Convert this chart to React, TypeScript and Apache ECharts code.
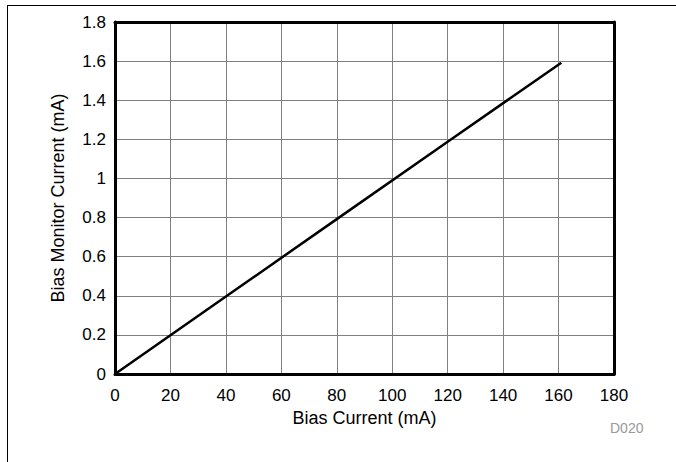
import React, { useEffect, useRef } from "react";
import * as echarts from "echarts";

const biasCurrent = [0, 40, 80, 120, 161];
const biasMonitor = [0, 0.396, 0.792, 1.188, 1.592];

export default function App() {
  const ref = useRef<HTMLDivElement>(null);
  useEffect(() => {
    const chart = echarts.init(ref.current!, null, { renderer: "svg" });
    const font = "Liberation Sans, Arial, sans-serif";
    const frame = { show: true, onZero: false, lineStyle: { color: "#000", width: 3 } };
    chart.setOption({
      animation: false,
      grid: { left: 115, right: 62, top: 22, bottom: 88, show: false, containLabel: false },
      xAxis: [
        {
          type: "value",
          min: 0,
          max: 180,
          interval: 20,
          name: "Bias Current (mA)",
          nameLocation: "middle",
          nameGap: 34,
          nameTextStyle: { color: "#000", fontSize: 18, fontFamily: font },
          axisLine: frame,
          axisTick: { show: false },
          axisLabel: { color: "#000", fontSize: 17, fontFamily: font, margin: 13 },
          splitLine: { show: true, lineStyle: { color: "#808080", width: 1 } },
          z: 3,
        },
        {
          type: "value",
          position: "top",
          min: 0,
          max: 180,
          interval: 20,
          axisLine: frame,
          axisTick: { show: false },
          axisLabel: { show: false },
          splitLine: { show: false },
          z: 3,
        },
      ],
      yAxis: [
        {
          type: "value",
          min: 0,
          max: 1.8,
          interval: 0.2,
          name: "Bias Monitor Current (mA)",
          nameLocation: "middle",
          nameGap: 48,
          nameTextStyle: { color: "#000", fontSize: 18, fontFamily: font },
          axisLine: frame,
          axisTick: { show: false },
          axisLabel: {
            color: "#000",
            fontSize: 17,
            fontFamily: font,
            margin: 9,
            formatter: (v: number) => String(Math.round(v * 10) / 10),
          },
          splitLine: { show: true, lineStyle: { color: "#808080", width: 1 } },
          z: 3,
        },
        {
          type: "value",
          position: "right",
          min: 0,
          max: 1.8,
          interval: 0.2,
          axisLine: frame,
          axisTick: { show: false },
          axisLabel: { show: false },
          splitLine: { show: false },
          z: 3,
        },
      ],
      graphic: [
        { type: "line", shape: { x1: 7, y1: 5.5, x2: 676, y2: 5.5 }, style: { stroke: "#000", lineWidth: 1 } },
        { type: "line", shape: { x1: 7.5, y1: 5, x2: 7.5, y2: 462 }, style: { stroke: "#000", lineWidth: 1 } },
        { type: "text", x: 610, y: 421, style: { text: "D020", fill: "#999", fontSize: 14, fontFamily: font } },
      ],
      series: [
        {
          type: "line",
          data: biasCurrent.map((x, i) => [x, biasMonitor[i]]),
          showSymbol: false,
          lineStyle: { color: "#000", width: 2.5 },
          z: 5,
        },
      ],
    });
    return () => chart.dispose();
  }, []);
  return <div ref={ref} style={{ width: 676, height: 462, position: "absolute", left: 0, top: 0 }} />;
}
